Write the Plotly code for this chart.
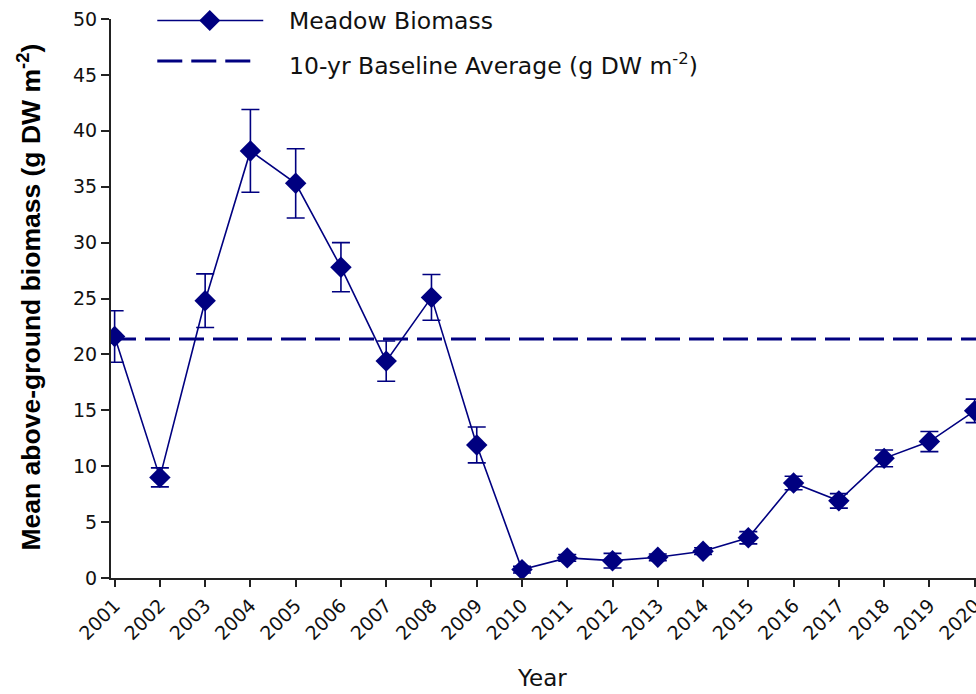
import plotly.graph_objects as go

years = list(range(2001, 2021))
biomass = [21.6, 9.0, 24.8, 38.2, 35.3, 27.8, 19.4, 25.1, 11.9, 0.75,
           1.8, 1.55, 1.85, 2.4, 3.6, 8.5, 6.9, 10.7, 12.2, 14.95]
errors = [2.3, 0.85, 2.4, 3.7, 3.1, 2.2, 1.8, 2.05, 1.6, 0.3,
          0.3, 0.65, 0.3, 0.3, 0.55, 0.6, 0.65, 0.75, 0.9, 1.05]
baseline = 21.37
y_ticks = [0, 5, 10, 15, 20, 25, 30, 35, 40, 45, 50]

NAVY = "#000080"
AXIS = "#222222"
FONT = "DejaVu Sans"

W, H = 976, 694
ml, mr, mt, mb = 110.7, 0, 19, 116.3
pw, ph = W - ml - mr, H - mt - mb


def px(x):
    return (x - ml) / pw


def py(y):
    return (H - mb - y) / ph


fig = go.Figure()
fig.add_trace(go.Scatter(
    x=years, y=biomass, mode="lines+markers",
    line=dict(color=NAVY, width=1.6),
    marker=dict(symbol="diamond", size=16.5, color=NAVY),
    error_y=dict(type="data", array=errors, visible=True,
                 color=NAVY, thickness=1.6, width=9),
    showlegend=False,
))

shapes = [
    dict(type="line", xref="paper", yref="y", x0=0, x1=1,
         y0=baseline, y1=baseline, layer="below",
         line=dict(color=NAVY, width=3, dash="25px,9px")),
    # legend samples
    dict(type="line", xref="paper", yref="paper", x0=px(157), x1=px(263),
         y0=py(20.5), y1=py(20.5), line=dict(color=NAVY, width=1.6)),
    dict(type="path", xref="paper", yref="paper", xsizemode="pixel",
         ysizemode="pixel", xanchor=px(209.5), yanchor=py(20.5),
         path="M-10.5,0 L0,10.5 L10.5,0 L0,-10.5 Z",
         fillcolor=NAVY, line=dict(color=NAVY, width=0)),
    dict(type="line", xref="paper", yref="paper", x0=px(157), x1=px(251),
         y0=py(61), y1=py(61), line=dict(color=NAVY, width=3, dash="25px,9px")),
]

annotations = [
    dict(text="Meadow Biomass", xref="paper", yref="paper", x=px(287), y=py(21),
         xanchor="left", yanchor="middle", showarrow=False,
         font=dict(family=FONT, size=23.5, color="#111")),
    dict(text="10-yr Baseline Average (g DW m<sup>-2</sup>)", xref="paper",
         yref="paper", x=px(287), y=py(64), xanchor="left", yanchor="middle",
         showarrow=False, font=dict(family=FONT, size=23.5, color="#111")),
    dict(text="Mean above-ground biomass (g DW m<sup>-2</sup>)", xref="paper",
         yref="paper", x=px(29), y=py(297), textangle=-90, xanchor="center",
         yanchor="middle", showarrow=False,
         font=dict(family="Liberation Sans", size=26.5, color="#000", weight=700)),
    dict(text="Year", xref="paper", yref="paper", x=px(542), y=py(693),
         xanchor="center", yanchor="bottom", showarrow=False,
         font=dict(family=FONT, size=23, color="#111")),
]

fig.update_layout(
    width=W, height=H,
    margin=dict(l=ml, r=mr, t=mt, b=mb, pad=0),
    paper_bgcolor="white", plot_bgcolor="white",
    shapes=shapes, annotations=annotations,
    xaxis=dict(range=[2000.92, 2020.03], tickmode="array", tickvals=years,
               ticktext=[str(y) for y in years], tickangle=-45,
               ticklabeloverflow="allow", automargin=False,
               showline=True, linecolor=AXIS, linewidth=2,
               ticks="outside", ticklen=7, tickwidth=2, tickcolor=AXIS,
               showgrid=False, zeroline=False,
               tickfont=dict(family=FONT, size=19, color="#111")),
    yaxis=dict(range=[0, 50], tickvals=y_ticks, automargin=False,
               showline=True, linecolor=AXIS, linewidth=2,
               ticks="outside", ticklen=8, tickwidth=1.5, tickcolor=AXIS,
               showgrid=False, zeroline=False,
               tickfont=dict(family=FONT, size=19, color="#111")),
)

fig.write_html("out.html")
